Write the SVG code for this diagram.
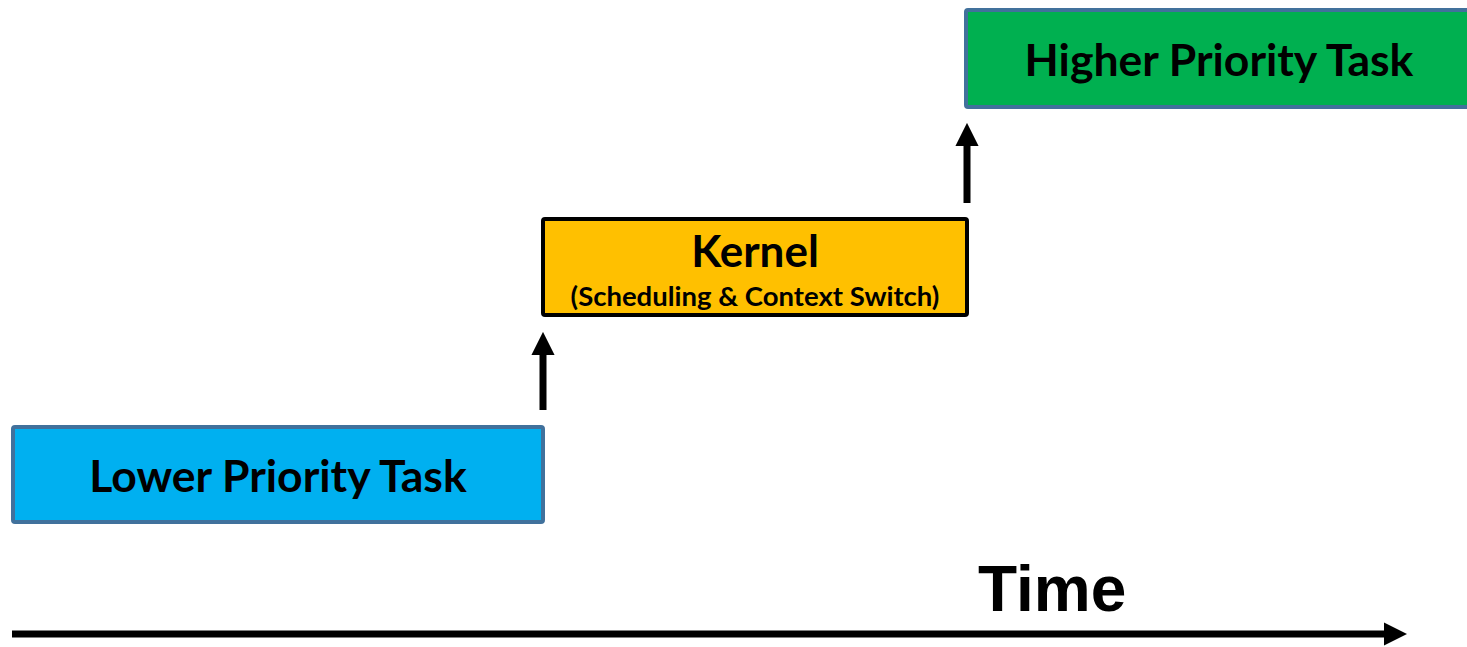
<svg xmlns="http://www.w3.org/2000/svg" width="1467" height="647" viewBox="0 0 1467 647">
  <style>
    .task { stroke: #41719C; stroke-width: 4; }
    .label { font-family: Lato, "Open Sans", "Liberation Sans", sans-serif; font-weight: bold; fill: #000; text-anchor: middle; }
    .conn { stroke: #000; stroke-width: 7; fill: none; }
  </style>
  <defs>
    <marker id="head" viewBox="0 0 10 10" refX="0" refY="5" markerWidth="3.3" markerHeight="3.3" markerUnits="strokeWidth" orient="auto">
      <path d="M0,0 L10,5 L0,10 Z" fill="#000"/>
    </marker>
  </defs>
  <rect width="1467" height="647" fill="#fff"/>

  <g id="lower-task">
    <rect class="task" x="13" y="427" width="530" height="95" rx="2" fill="#00B0F0"/>
    <text class="label" x="278" y="492" font-size="44.5">Lower Priority Task</text>
  </g>

  <g id="kernel">
    <rect x="543" y="219" width="424" height="96" rx="2" fill="#FFC000" stroke="#000" stroke-width="4"/>
    <text class="label" x="755" y="267" font-size="44">Kernel</text>
    <text class="label" x="755" y="306" font-size="27.5">(Scheduling &amp; Context Switch)</text>
  </g>

  <g id="higher-task">
    <rect class="task" x="966" y="10" width="510" height="97" rx="2" fill="#00B050"/>
    <text class="label" x="1219" y="76" font-size="44.5">Higher Priority Task</text>
  </g>

  <g id="time-axis">
    <text x="978" y="611" font-family="'Liberation Sans', Arial, sans-serif" font-weight="bold" font-size="64">Time</text>
  </g>

  <g id="connectors">
    <line class="conn" x1="543" y1="410" x2="543" y2="355" marker-end="url(#head)"/>
    <line class="conn" x1="967" y1="203" x2="967" y2="146" marker-end="url(#head)"/>
    <line class="conn" x1="12" y1="634" x2="1384" y2="634" marker-end="url(#head)"/>
  </g>
</svg>
